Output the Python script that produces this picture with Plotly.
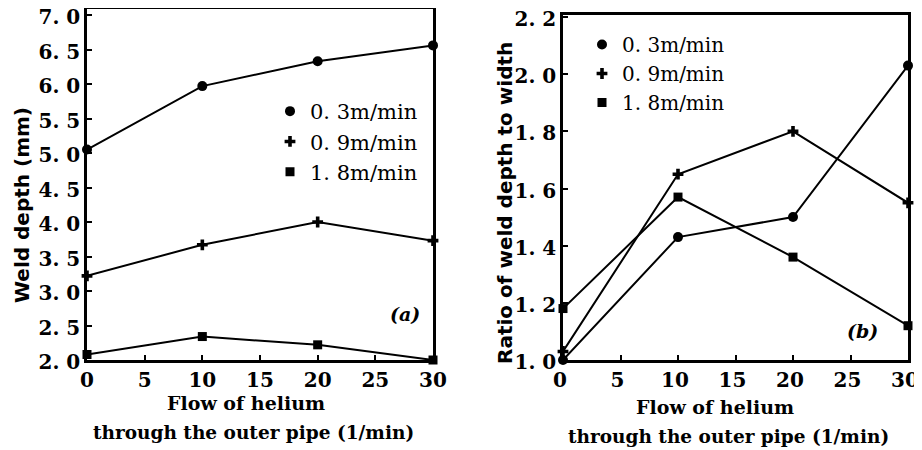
import plotly.graph_objects as go

# ---- data ----
flow = [0, 10, 20, 30]
series_names = ["0. 3m/min", "0. 9m/min", "1. 8m/min"]
symbols = ["circle", "cross", "square"]

depth_03 = [5.05, 5.97, 6.33, 6.56]
depth_09 = [3.22, 3.67, 4.00, 3.73]
depth_18 = [2.08, 2.34, 2.22, 2.00]

ratio_03 = [1.00, 1.43, 1.50, 2.03]
ratio_09 = [1.03, 1.65, 1.80, 1.55]
ratio_18 = [1.18, 1.57, 1.36, 1.12]

left_yticks = [2.0, 2.5, 3.0, 3.5, 4.0, 4.5, 5.0, 5.5, 6.0, 6.5, 7.0]
right_yticks = [1.0, 1.2, 1.4, 1.6, 1.8, 2.0, 2.2]
xticks = [0, 5, 10, 15, 20, 25, 30]

SERIF = "DejaVu Serif"
SANS = "DejaVu Sans"
NB = "\u00a0"


def fmt(v):
    s = f"{v:.1f}"
    a, b = s.split(".")
    return f"{a}.{NB}{b}"


# page offset (html body margin) -> figure coordinates
OFF = 8
W, H = 922, 450


def px(x):
    return (x - OFF) / W


def py(y):
    return 1 - (y - OFF) / H


fig = go.Figure()

marker_sizes = {"circle": 10, "cross": 9, "square": 9}

for vals, sym in zip([depth_03, depth_09, depth_18], symbols):
    fig.add_trace(go.Scatter(x=flow, y=vals, mode="lines+markers", xaxis="x", yaxis="y",
                             line=dict(color="black", width=2),
                             marker=dict(symbol=sym, size=marker_sizes[sym], color="black",
                                         line=dict(width=0)),
                             cliponaxis=False, showlegend=False))
for vals, sym in zip([ratio_03, ratio_09, ratio_18], symbols):
    fig.add_trace(go.Scatter(x=flow, y=vals, mode="lines+markers", xaxis="x2", yaxis="y2",
                             line=dict(color="black", width=2),
                             marker=dict(symbol=sym, size=marker_sizes[sym], color="black",
                                         line=dict(width=0)),
                             cliponaxis=False, showlegend=False))

# legend entries (markers only)
for name, sym in zip(series_names, symbols):
    fig.add_trace(go.Scatter(x=[None], y=[None], mode="markers", name=name, xaxis="x", yaxis="y",
                             marker=dict(symbol=sym, size=marker_sizes[sym], color="black"),
                             legend="legend"))
for name, sym in zip(series_names, symbols):
    fig.add_trace(go.Scatter(x=[None], y=[None], mode="markers", name=name, xaxis="x2", yaxis="y2",
                             marker=dict(symbol=sym, size=marker_sizes[sym], color="black"),
                             legend="legend2"))

axis_common = dict(showline=True, linecolor="black", linewidth=2.5, mirror=True,
                   ticks="inside", ticklen=5, tickwidth=1.5, tickcolor="black",
                   showgrid=False, zeroline=False, automargin=False,
                   ticklabeloverflow="allow",
                   tickfont=dict(family=SERIF, size=20, color="black", weight="bold"))

fig.update_layout(
    width=W, height=H,
    margin=dict(l=0, r=0, t=0, b=0),
    paper_bgcolor="white", plot_bgcolor="white",
    xaxis=dict(domain=[px(87), px(433)], range=[0, 30], tickvals=xticks,
               ticktext=[str(t) for t in xticks], anchor="y", **axis_common),
    yaxis=dict(domain=[py(360), py(9.3)], range=[2.0, 7.083], tickvals=left_yticks,
               ticktext=[fmt(v) for v in left_yticks], anchor="x", ticklabelshift=2,
               **axis_common),
    xaxis2=dict(domain=[px(563), px(908)], range=[0, 30], tickvals=xticks,
                ticktext=[str(t) for t in xticks], anchor="y2", ticklabelshift=-3,
                **axis_common),
    yaxis2=dict(domain=[py(360), py(15)], range=[1.0, 2.207], tickvals=right_yticks,
                ticktext=[fmt(v) for v in right_yticks], anchor="x2", ticklabelshift=2,
                **axis_common),
    legend=dict(x=px(270), y=py(91), xanchor="left", yanchor="top",
                bgcolor="rgba(0,0,0,0)", itemwidth=30, tracegroupgap=0,
                font=dict(family=SERIF, size=21, color="black")),
    legend2=dict(x=px(582), y=py(25), xanchor="left", yanchor="top",
                 bgcolor="rgba(0,0,0,0)", itemwidth=30, tracegroupgap=0,
                 font=dict(family=SERIF, size=20, color="black")),
)

t1 = dict(family=SERIF, size=19, color="black", weight="bold")
t2 = dict(family=SERIF, size=18.5, color="black", weight="bold")
ann = [
    dict(text="Flow of helium", x=px(246), y=py(403), font=t1),
    dict(text="through the outer pipe (1/min)", x=px(253), y=py(432), font=t2),
    dict(text="Flow of helium", x=px(715), y=py(407), font=t1),
    dict(text="through the outer pipe (1/min)", x=px(728), y=py(436), font=t2),
]
for a in ann:
    fig.add_annotation(xref="paper", yref="paper", showarrow=False,
                       xanchor="center", yanchor="middle", **a)

ytitle_font = dict(family=SANS, size=20, color="black", weight="bold")
fig.add_annotation(xref="paper", yref="paper", x=px(22), y=py(205), text="Weld depth (mm)",
                   textangle=-90, showarrow=False, font=ytitle_font,
                   xanchor="center", yanchor="middle")
fig.add_annotation(xref="paper", yref="paper", x=px(505), y=py(203),
                   text="Ratio of weld depth to width",
                   textangle=-90, showarrow=False, font=ytitle_font,
                   xanchor="center", yanchor="middle")
fig.add_annotation(xref="x", yref="y", x=27.6, y=2.67, text="<i>(a)</i>", showarrow=False,
                   font=dict(family=SERIF, size=19, color="black", weight="bold"))
fig.add_annotation(xref="x2", yref="y2", x=26.0, y=1.10, text="<i>(b)</i>", showarrow=False,
                   font=dict(family=SERIF, size=19, color="black", weight="bold"))

fig.write_html("out.html")
